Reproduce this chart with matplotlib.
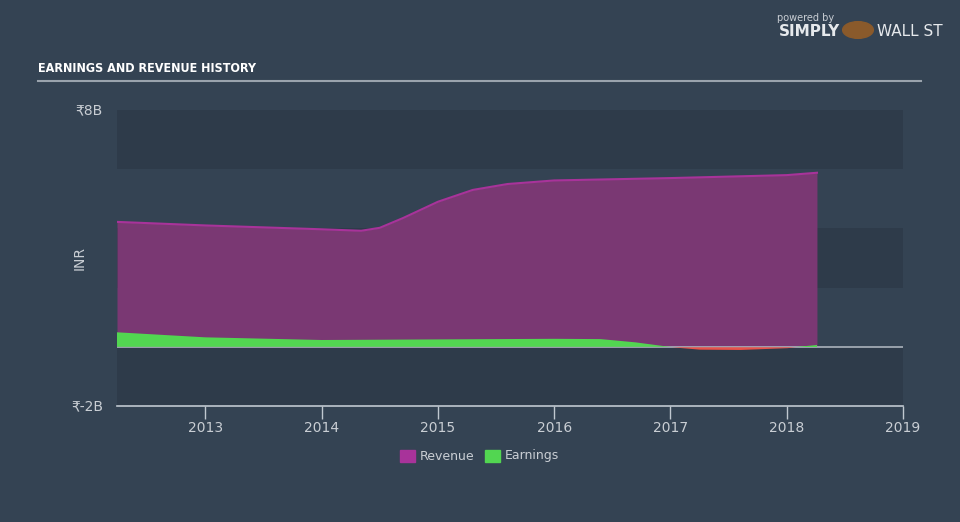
import numpy as np
import matplotlib.pyplot as plt

# valores (miles de millones de INR)
rev_x = [2012.24, 2013.0, 2014.0, 2014.34, 2014.5, 2014.7, 2015.0, 2015.3, 2015.6, 2016.0, 2017.0, 2018.0, 2018.26]
revenue = [4.22, 4.10, 3.97, 3.92, 4.02, 4.35, 4.90, 5.30, 5.50, 5.62, 5.70, 5.80, 5.88]

earn_x = [2012.24, 2013.0, 2014.0, 2015.0, 2016.0, 2016.4, 2016.7, 2016.95, 2017.25, 2017.6, 2018.0, 2018.26]
earnings = [0.49, 0.32, 0.23, 0.25, 0.27, 0.26, 0.15, 0.02, -0.08, -0.09, -0.03, 0.07]

years = [2013, 2014, 2015, 2016, 2017, 2018, 2019]
ytick_vals = [8, -2]
ytick_labels = ['₹8B', '₹-2B']

bg = '#344353'
dark = '#2e3b4a'
grey_txt = '#c9ced4'

fig = plt.figure(figsize=(9.6, 5.22), dpi=100, facecolor=bg)
ax = fig.add_axes([117/960, 1-406/522, 786/960, 296/522])
ax.set_facecolor(bg)

# franjas de fondo
for lo in [6, 2, -2]:
    ax.axhspan(lo, lo+2, color=dark, lw=0, zorder=0)

rx = np.array(rev_x); rv = np.array(revenue)
ex = np.array(earn_x); ev = np.array(earnings)

ax.fill_between(rx, 0, rv, color='#7a3873', lw=0, zorder=2)
ax.plot(rx, rv, color='#a8339a', lw=1.5, zorder=3)

ax.fill_between(ex, 0, ev, where=ev >= 0, interpolate=True, color='#52d651', lw=0, zorder=4)
ax.fill_between(ex, 0, ev, where=ev <= 0, interpolate=True, color='#e8524a', lw=0, zorder=4)

ax.axhline(0, color='#aab2bb', lw=1.2, zorder=3.5)

ax.set_xlim(2012.24, 2019.0)
ax.set_ylim(-2, 8)

for s in ['top', 'right', 'left']:
    ax.spines[s].set_visible(False)
ax.spines['bottom'].set_color('#c0c8d0')
ax.spines['bottom'].set_linewidth(1.2)

ax.set_xticks(years)
ax.set_xticklabels([str(y) for y in years])
ax.tick_params(axis='x', colors='#c0c8d0', length=9, width=1, labelcolor=grey_txt, labelsize=10, pad=2)
ax.set_yticks([])

for v, lab in zip(ytick_vals, ytick_labels):
    ax.text(-0.018, (v + 2) / 10, lab, transform=ax.transAxes, ha='right', va='center',
            color=grey_txt, fontsize=10)
fig.text(80/960, 1-258/522, 'INR', rotation=90, ha='center', va='center', color=grey_txt, fontsize=10)

# titulo y linea
fig.text(38/960, 1-68/522, 'EARNINGS AND REVENUE HISTORY', ha='left', va='center', color='white',
         fontsize=9, fontweight='bold', fontstretch='condensed', family='DejaVu Sans')
fig.add_artist(plt.Line2D([38/960, 921/960], [1-81/522, 1-81/522], color='#9aa3ad', lw=1.5))

# logo
fig.text(806/960, 1-18/522, 'powered by', ha='center', va='center', color='#c9ced4', fontsize=7)
fig.text(810/960, 1-31/522, 'SIMPLY', ha='center', va='center', color='#e6e9ec', fontsize=11, fontweight='bold')
fig.text(910/960, 1-31/522, 'WALL ST', ha='center', va='center', color='#e6e9ec', fontsize=11)
fig.patches.append(plt.Circle((858/960, 1-30/522), 0.016, transform=fig.transFigure, color='#8a5a2b'))

# leyenda
fig.patches.append(plt.Rectangle((400/960, 1-462/522), 15/960, 12/522, transform=fig.transFigure, color='#a8339a'))
fig.text(420/960, 1-456/522, 'Revenue', ha='left', va='center', color=grey_txt, fontsize=9)
fig.patches.append(plt.Rectangle((485/960, 1-462/522), 15/960, 12/522, transform=fig.transFigure, color='#52d651'))
fig.text(505/960, 1-456/522, 'Earnings', ha='left', va='center', color=grey_txt, fontsize=9)

plt.savefig('out.png', dpi=100, facecolor=bg)
